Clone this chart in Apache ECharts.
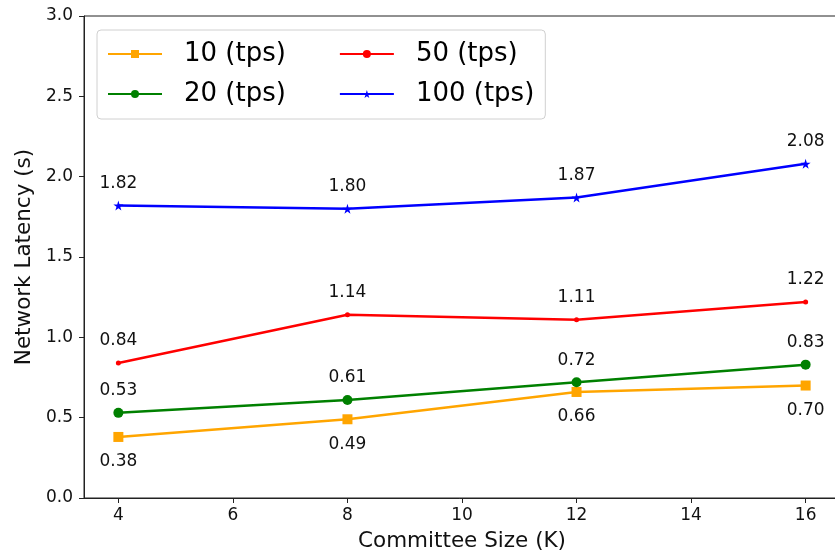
<!DOCTYPE html>
<html>
<head>
<meta charset="utf-8">
<script src="https://cdn.jsdelivr.net/npm/echarts@6/dist/echarts.min.js"></script>
<style>html,body{margin:0;padding:0;background:#fff}#c{width:835px;height:557px}</style>
</head>
<body>
<div id="c"></div>
<script>
const committeeSizes = [4, 8, 12, 16];
const xTicks = [4, 6, 8, 10, 12, 14, 16];
const yTicks = [0, 0.5, 1.0, 1.5, 2.0, 2.5, 3.0];
const tps10 = [0.38, 0.49, 0.66, 0.70];
const tps20 = [0.53, 0.61, 0.72, 0.83];
const tps50 = [0.84, 1.14, 1.11, 1.22];
const tps100 = [1.82, 1.80, 1.87, 2.08];
const seriesNames = ['10 (tps)', '20 (tps)', '50 (tps)', '100 (tps)'];

const FONT = 'DejaVu Sans';
const star = 'path://M50,0 L61,35 L98,35 L68,57 L79,91 L50,70 L21,91 L32,57 L2,35 L39,35 Z';

function mk(name, vals, color, symbol, size, below) {
  return {
    name: name,
    type: 'line',
    data: committeeSizes.map((x, i) => [x, vals[i]]),
    symbol: symbol,
    symbolSize: size,
    showAllSymbol: true,
    lineStyle: {color: color, width: 2.5},
    itemStyle: {color: color},
    label: {
      show: true,
      position: 'inside',
      offset: [0, below ? 25 : -22],
      formatter: p => p.value[1].toFixed(2),
      fontFamily: FONT, fontSize: 17, color: '#111'
    },
    emphasis: {disabled: true},
    z: 3
  };
}

const firstCol = [seriesNames[0], seriesNames[1]];
const chart = echarts.init(document.getElementById('c'), null, {renderer: 'canvas'});
chart.setOption({
  animation: false,
  backgroundColor: '#fff',
  grid: {left: 84, right: -5, top: 16, bottom: 59, show: true, borderColor: '#222', borderWidth: 1, outerBoundsMode: 'none', containLabel: false},
  legend: {
    data: [seriesNames[0], seriesNames[2], seriesNames[1], seriesNames[3]],
    left: 97, top: 30, width: 430,
    padding: [9, 11, 10, 10],
    itemWidth: 54, itemHeight: 10, itemGap: 10,
    borderColor: '#d0d0d0', borderWidth: 1, borderRadius: 4,
    backgroundColor: 'rgba(255,255,255,0.8)',
    formatter: n => (firstCol.indexOf(n) >= 0 ? '{a|' : '{b|') + n + '}',
    textStyle: {fontFamily: FONT, fontSize: 26, color: '#000', lineHeight: 30,
      rich: {
        a: {fontFamily: FONT, fontSize: 26, color: '#000', lineHeight: 30, padding: [0, 43, 0, 17]},
        b: {fontFamily: FONT, fontSize: 26, color: '#000', lineHeight: 30, padding: [0, 0, 0, 17]}
      }}
  },
  xAxis: {
    type: 'value', min: 3.4, max: 16.6,
    name: 'Committee Size (K)', nameLocation: 'middle', nameGap: 32,
    nameTextStyle: {fontFamily: FONT, fontSize: 21.5, color: '#111'},
    axisLine: {show: true, lineStyle: {color: '#222', width: 1}},
    axisTick: {show: true, length: 5, inside: false, lineStyle: {color: '#222'}, customValues: xTicks},
    axisLabel: {fontFamily: FONT, fontSize: 17, color: '#111', margin: 9, customValues: xTicks, formatter: v => String(v)},
    splitLine: {show: false}
  },
  yAxis: {
    type: 'value', min: 0, max: 3, interval: 0.5,
    name: 'Network Latency (s)', nameLocation: 'middle', nameGap: 48, nameRotate: 90,
    nameTextStyle: {fontFamily: FONT, fontSize: 21.5, color: '#111'},
    axisLine: {show: true, lineStyle: {color: '#222', width: 1}},
    axisTick: {show: true, length: 5, inside: false, lineStyle: {color: '#222'}, customValues: yTicks},
    axisLabel: {fontFamily: FONT, fontSize: 17, color: '#111', margin: 11, customValues: yTicks, formatter: v => v.toFixed(1)},
    splitLine: {show: false}
  },
  series: [
    mk(seriesNames[0], tps10, '#FFA500', 'rect', 10, true),
    mk(seriesNames[1], tps20, '#008000', 'circle', 10, false),
    mk(seriesNames[2], tps50, '#FF0000', 'circle', 5, false),
    mk(seriesNames[3], tps100, '#0000FF', star, 10, false)
  ]
});
</script>
</body>
</html>
